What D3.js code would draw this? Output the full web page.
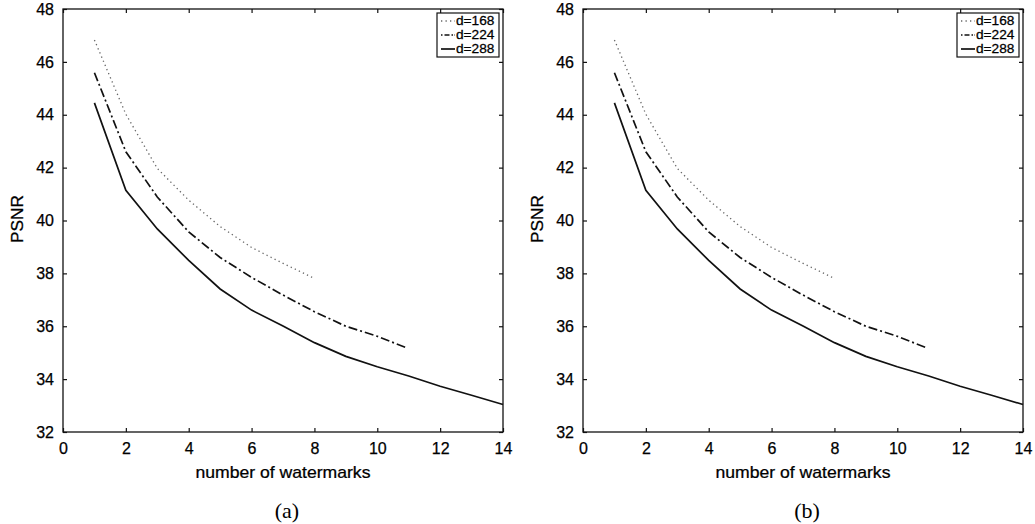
<!DOCTYPE html>
<html>
<head>
<meta charset="utf-8">
<script src="https://cdn.jsdelivr.net/npm/d3@7"></script>
<style>
  body { margin: 0; background: #fff; }
  svg { display: block; }
  text { font-family: "Liberation Sans", Arial, sans-serif; fill: #000; stroke: #000; stroke-width: 0.25px; }
  .caption { font-family: "Liberation Serif", "Times New Roman", serif; font-size: 22px; stroke: none; }
  .domain { display: none; }
  .tick line { stroke: #111; stroke-width: 1.2; }
</style>
</head>
<body>
<svg width="1035" height="524"></svg>
<script>
// number of watermarks on the x axis
const xs168 = [1, 2, 3, 4, 5, 6, 7, 8];
const xs224 = [1, 2, 3, 4, 5, 6, 7, 8, 9, 10, 10.9];
const xs288 = [1, 2, 3, 4, 5, 6, 7, 8, 9, 10, 11, 12, 13, 14];

// PSNR
const psnr168 = [46.83, 44.02, 41.97, 40.77, 39.77, 38.98, 38.38, 37.81];
const psnr224 = [45.59, 42.60, 40.89, 39.57, 38.60, 37.85, 37.18, 36.55, 36.00, 35.62, 35.20];
const psnr288 = [44.45, 41.14, 39.68, 38.49, 37.41, 36.61, 36.01, 35.38, 34.86, 34.47, 34.12, 33.73, 33.39, 33.04];

const seriesNames = ['d=168', 'd=224', 'd=288'];
const xTicks = [0, 2, 4, 6, 8, 10, 12, 14];
const yTicks = [32, 34, 36, 38, 40, 42, 44, 46, 48];
const panelLabels = ['(a)', '(b)'];

const series = [
    {name: seriesNames[0], xs: xs168, ys: psnr168, dash: '1.3,3.2', color: '#666', width: 1.3},
    {name: seriesNames[1], xs: xs224, ys: psnr224, dash: '9,3,2,3', color: '#111', width: 1.7},
    {name: seriesNames[2], xs: xs288, ys: psnr288, dash: null, color: '#111', width: 1.7}
];

var svg = d3.select('svg');

function drawPanel(left, label) {
    var w = 440, h = 423, top = 9;
    var g = svg.append('g').attr('transform', 'translate(' + left + ',' + top + ')');

    var x = d3.scaleLinear().domain([0, 14]).range([0, w]);
    var y = d3.scaleLinear().domain([32, 48]).range([h, 0]);

    // MATLAB style inward ticks on all four sides
    g.append('g').attr('transform', 'translate(0,' + h + ')')
        .call(d3.axisBottom(x).tickValues(xTicks).tickSize(-4).tickPadding(11))
        .selectAll('text').attr('font-size', 16);
    g.append('g')
        .call(d3.axisTop(x).tickValues(xTicks).tickSize(-4).tickFormat(''));
    g.append('g')
        .call(d3.axisLeft(y).tickValues(yTicks).tickSize(-4).tickPadding(9))
        .selectAll('text').attr('font-size', 16);
    g.append('g').attr('transform', 'translate(' + w + ',0)')
        .call(d3.axisRight(y).tickValues(yTicks).tickSize(-4).tickFormat(''));

    g.append('rect')
        .attr('width', w).attr('height', h)
        .attr('fill', 'none').attr('stroke', '#111').attr('stroke-width', 1.3);

    var line = d3.line()
        .x(function(d) { return x(d[0]); })
        .y(function(d) { return y(d[1]); });

    series.forEach(function(s) {
        g.append('path')
            .attr('d', line(d3.zip(s.xs, s.ys)))
            .attr('fill', 'none')
            .attr('stroke', s.color)
            .attr('stroke-width', s.width)
            .attr('stroke-dasharray', s.dash);
    });

    // legend box in the upper right corner
    var lg = g.append('g').attr('transform', 'translate(' + (w - 66) + ',4)');
    lg.append('rect')
        .attr('width', 62).attr('height', 44)
        .attr('fill', '#fff').attr('stroke', '#111').attr('stroke-width', 1.2);
    series.forEach(function(s, i) {
        var ly = 8 + i * 14;
        lg.append('line')
            .attr('x1', 4).attr('x2', 18).attr('y1', ly).attr('y2', ly)
            .attr('stroke', s.color).attr('stroke-width', s.width)
            .attr('stroke-dasharray', i == 1 ? '1.5,2,5,2,1.5' : s.dash);
        lg.append('text')
            .attr('font-size', 12)
            .attr('dy', '0.36em')
            .attr('transform', 'translate(19,' + ly + ') scale(1.14,1)')
            .text(s.name);
    });

    // axis titles
    g.append('text')
        .attr('text-anchor', 'middle')
        .attr('font-size', 16)
        .attr('transform', 'translate(' + (w / 2) + ',' + (h + 46) + ') scale(1.1,1)')
        .text('number of watermarks');
    g.append('text')
        .attr('text-anchor', 'middle')
        .attr('font-size', 16)
        .attr('transform', 'translate(-40,' + (h / 2 - 1.5) + ') rotate(-90) scale(1.08,1)')
        .text('PSNR');

    svg.append('text')
        .attr('class', 'caption')
        .attr('text-anchor', 'middle')
        .attr('x', left + w / 2 + 4)
        .attr('y', 518)
        .text(label);
}

drawPanel(63, panelLabels[0]);
drawPanel(583, panelLabels[1]);
</script>
</body>
</html>
